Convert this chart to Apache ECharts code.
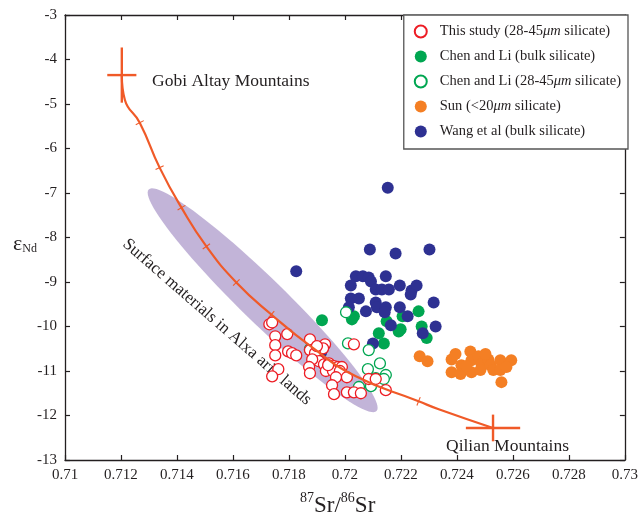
<!DOCTYPE html>
<html><head><meta charset="utf-8">
<script src="https://cdn.jsdelivr.net/npm/echarts@6/dist/echarts.min.js"></script>
<style>html,body{margin:0;padding:0;background:#fff}#c{width:641px;height:519px}</style>
</head><body><div id="c"></div>
<script>
// ---- data ----
const xTickLabels = ['0.71','0.712','0.714','0.716','0.718','0.72','0.722','0.724','0.726','0.728','0.73'];
const yTickLabels = ['-13','-12','-11','-10','-9','-8','-7','-6','-5','-4','-3'];

const thisStudy = [[0.71730,-9.95],[0.71740,-9.91],[0.71751,-10.22],[0.71794,-10.17],[0.71751,-10.42],[0.71751,-10.65],[0.71797,-10.56],[0.71811,-10.60],[0.71826,-10.65],[0.71762,-10.96],[0.71740,-11.12],[0.71875,-10.29],[0.71929,-10.40],[0.71922,-10.49],[0.71875,-10.53],[0.71893,-10.60],[0.71907,-10.78],[0.71883,-10.74],[0.71872,-10.91],[0.71875,-11.05],[0.71925,-10.85],[0.71943,-10.83],[0.71961,-10.89],[0.71975,-10.91],[0.71989,-10.91],[0.71932,-11.00],[0.71957,-11.00],[0.71982,-11.00],[0.72007,-11.14],[0.71968,-11.14],[0.71954,-11.32],[0.71961,-11.52],[0.72007,-11.48],[0.72032,-11.48],[0.72057,-11.50],[0.72032,-10.40],[0.72085,-11.18],[0.72110,-11.18],[0.72146,-11.43],[0.71900,-10.44],[0.71940,-10.87]];
const chenBulk = [[0.71918,-9.86],[0.72032,-9.77],[0.72121,-10.15],[0.72139,-10.38],[0.72149,-9.88],[0.72192,-10.11],[0.72206,-9.77],[0.72263,-9.66],[0.72274,-10.00],[0.72292,-10.26],[0.72199,-10.06],[0.72025,-9.84]];
const chenFine = [[0.72004,-9.68],[0.72011,-10.38],[0.72085,-10.53],[0.72125,-10.83],[0.72082,-10.96],[0.72146,-11.09],[0.72110,-11.16],[0.72093,-11.34],[0.72050,-11.36],[0.71875,-10.51],[0.72139,-11.18]];
const sunFine = [[0.72267,-10.67],[0.72295,-10.78],[0.72381,-10.74],[0.72395,-10.62],[0.72381,-11.03],[0.72413,-11.07],[0.72416,-10.87],[0.72448,-10.56],[0.72452,-10.76],[0.72452,-11.03],[0.72477,-10.67],[0.72488,-10.85],[0.72484,-10.98],[0.72512,-10.74],[0.72520,-10.87],[0.72530,-10.98],[0.72555,-10.76],[0.72555,-10.98],[0.72559,-11.25],[0.72594,-10.76],[0.72577,-10.91],[0.72434,-10.89],[0.72502,-10.62]];
const wangBulk = [[0.72153,-6.88],[0.71826,-8.76],[0.72089,-8.27],[0.72181,-8.36],[0.72302,-8.27],[0.72039,-8.87],[0.72064,-8.87],[0.72085,-8.90],[0.72146,-8.87],[0.72021,-9.08],[0.72093,-8.99],[0.72110,-9.17],[0.72132,-9.17],[0.72157,-9.17],[0.72196,-9.08],[0.72238,-9.19],[0.72256,-9.08],[0.72235,-9.28],[0.72021,-9.37],[0.72050,-9.37],[0.72014,-9.57],[0.72075,-9.66],[0.72110,-9.46],[0.72114,-9.57],[0.72146,-9.57],[0.72142,-9.68],[0.72196,-9.57],[0.72224,-9.77],[0.72164,-9.97],[0.72317,-9.46],[0.72278,-10.15],[0.72324,-10.00],[0.72100,-10.38],[0.71915,-10.58]];

// mixing curve
const curveX = [0.71203,0.71214,0.71267,0.71338,0.71416,0.71505,0.71612,0.71737,0.71883,0.72039,0.72263,0.72335,0.72529];
const curveY = [-4.37,-4.91,-5.42,-6.43,-7.33,-8.20,-9.01,-9.73,-10.47,-11.12,-11.68,-11.86,-12.28];
// mixing-ratio tick marks on the curve
const tickX = [0.71267,0.71338,0.71416,0.71505,0.71612,0.71737,0.72263];
const tickY = [-5.42,-6.43,-7.33,-8.20,-9.01,-9.73,-11.68];

// end members: x, y, x error, y error
const endNames = ['Gobi Altay Mountains','Qilian Mountains'];
const endX = [0.71203,0.72529];
const endY = [-4.35,-12.28];
const endXErr = [0.00052,0.00097];
const endYErr = [0.62,0.30];

// surface-material field (ellipse): centre, one end of the major axis, minor/major ratio
const ellipseCenter = [0.71706,-9.41];
const ellipseEnd = [0.71299,-6.92];
const ellipseRatio = 0.14;

// ---- chart ----
const serif = '"Liberation Serif","Times New Roman",serif';
const ink = '#231f20';
const curveColor = '#f05a28';
const chart = echarts.init(document.getElementById('c'), null, {renderer:'canvas'});

const axisCommon = {
  axisLine:{show:true, onZero:false, lineStyle:{color:ink, width:1.3}},
  axisTick:{show:true, inside:true, length:5, lineStyle:{color:ink, width:1.2}},
  splitLine:{show:false}
};

chart.setOption({
  animation:false,
  backgroundColor:'#fff',
  grid:{left:65, right:13, top:15, bottom:59},
  xAxis:[
    Object.assign({type:'value', min:0.71, max:0.73, interval:0.002, position:'bottom',
      axisLabel:{color:ink, fontFamily:serif, fontSize:15, margin:8,
        formatter:(v)=>xTickLabels[Math.round((v-0.71)/0.002)]}}, axisCommon),
    Object.assign({type:'value', min:0.71, max:0.73, interval:0.002, position:'top', axisLabel:{show:false}}, axisCommon)
  ],
  yAxis:[
    Object.assign({type:'value', min:-13, max:-3, interval:1, position:'left',
      axisLabel:{color:ink, fontFamily:serif, fontSize:15, margin:8,
        formatter:(v)=>yTickLabels[Math.round(v+13)]}}, axisCommon),
    Object.assign({type:'value', min:-13, max:-3, interval:1, position:'right', axisLabel:{show:false}}, axisCommon)
  ],
  legend:{
    orient:'vertical', right:13, top:15,
    padding:[9,7,10,10], itemGap:10, itemWidth:28, itemHeight:12,
    borderColor:'#555', borderWidth:1.3, backgroundColor:'#fff',
    textStyle:{fontFamily:serif, fontSize:14.5, color:ink,
      rich:{i:{fontFamily:serif, fontSize:14.5, fontStyle:'italic', color:ink}}},
    formatter:(n)=>n.replace('μm','{i|μm}'),
    data:['This study (28-45μm silicate)','Chen and Li (bulk silicate)','Chen and Li (28-45μm silicate)','Sun (<20μm silicate)','Wang et al (bulk silicate)']
  },
  graphic:[
    {type:'text', left:152, top:72, silent:true, style:{text:'Gobi Altay Mountains', font:'17.5px '+serif, fill:ink}},
    {type:'text', left:446, top:437, silent:true, style:{text:'Qilian Mountains', font:'17.5px '+serif, fill:ink}},
    {type:'text', x:217, y:322, rotation:-41*Math.PI/180, silent:true,
      style:{text:'Surface materials in Alxa arid lands', font:'17px '+serif, fill:ink, align:'center', verticalAlign:'middle'}},
    {type:'text', left:13, top:233, silent:true,
      style:{text:'{e|ε}{s|Nd}', rich:{e:{fontFamily:serif, fontSize:22, fill:ink, verticalAlign:'bottom', lineHeight:24},
        s:{fontFamily:serif, fontSize:12, fill:ink, verticalAlign:'bottom', lineHeight:18}}}},
    {type:'text', left:300, top:491, silent:true,
      style:{text:'{p|87}{t|Sr/}{p|86}{t|Sr}', rich:{t:{fontFamily:serif, fontSize:23, fill:ink, verticalAlign:'bottom', lineHeight:26},
        p:{fontFamily:serif, fontSize:14, fill:ink, verticalAlign:'top', lineHeight:26}}}}
  ],
  series:[
    { type:'custom', name:'field', silent:true, data:[ellipseCenter],
      renderItem:(params, api)=>{
        const c = api.coord(ellipseCenter), e = api.coord(ellipseEnd);
        const ax = e[0]-c[0], ay = e[1]-c[1];
        const a = Math.hypot(ax, ay), ux = ax/a, uy = ay/a, b = a*ellipseRatio;
        const pts = [];
        for (let k=0;k<96;k++){
          const t = k/96*Math.PI*2, ca = Math.cos(t)*a, sb = Math.sin(t)*b;
          pts.push([c[0]+ux*ca - uy*sb, c[1]+uy*ca + ux*sb]);
        }
        return {type:'polygon', shape:{points:pts}, style:{fill:'#c2b4d8'}};
      }},
    { type:'line', name:'mixing', silent:true, smooth:0.5, symbol:'none',
      data:curveX.map((x,i)=>[x,curveY[i]]), lineStyle:{color:curveColor, width:2.2}},
    { type:'custom', name:'ticks', silent:true, data:tickX.map((x,i)=>[x,tickY[i]]),
      renderItem:(params, api)=>{
        const p = api.coord([api.value(0), api.value(1)]);
        const cp = curveX.map((x,i)=>api.coord([x,curveY[i]]));
        let bi=0, bd=1e9;
        cp.forEach((q,i)=>{const d=Math.hypot(q[0]-p[0],q[1]-p[1]); if(d<bd){bd=d;bi=i;}});
        const pr = cp[Math.max(bi-1,0)], nx = cp[Math.min(bi+1,cp.length-1)];
        let dx = nx[0]-pr[0], dy = nx[1]-pr[1]; const L = Math.hypot(dx,dy); dx/=L; dy/=L;
        const h = 4.5;
        return {type:'line', shape:{x1:p[0]-dy*h, y1:p[1]+dx*h, x2:p[0]+dy*h, y2:p[1]-dx*h},
          style:{stroke:curveColor, lineWidth:1.1}};
      }},
    { type:'custom', name:'endmembers', silent:true,
      data:endX.map((x,i)=>[x,endY[i],endXErr[i],endYErr[i]]),
      renderItem:(params, api)=>{
        const x=api.value(0), y=api.value(1), ex=api.value(2), ey=api.value(3);
        const l=api.coord([x-ex,y]), r=api.coord([x+ex,y]), t=api.coord([x,y+ey]), b=api.coord([x,y-ey]);
        const st = {stroke:curveColor, lineWidth:2.4};
        return {type:'group', children:[
          {type:'line', shape:{x1:l[0],y1:l[1],x2:r[0],y2:r[1]}, style:st},
          {type:'line', shape:{x1:t[0],y1:t[1],x2:b[0],y2:b[1]}, style:st}
        ]};
      }},
    { type:'scatter', name:'Sun (<20μm silicate)', data:sunFine, symbol:'circle', symbolSize:12,
      itemStyle:{color:'#f47f24', opacity:1}},
    { type:'scatter', name:'Chen and Li (bulk silicate)', data:chenBulk, symbol:'circle', symbolSize:12,
      itemStyle:{color:'#00a651', opacity:1}},
    { type:'scatter', name:'Wang et al (bulk silicate)', data:wangBulk, symbol:'circle', symbolSize:12,
      itemStyle:{color:'#2e3192', opacity:1}},
    { type:'scatter', name:'Chen and Li (28-45μm silicate)', data:chenFine, symbol:'circle', symbolSize:11,
      itemStyle:{color:'#ffffff', borderColor:'#00a651', borderWidth:1.3, opacity:1}},
    { type:'scatter', name:'This study (28-45μm silicate)', data:thisStudy, symbol:'circle', symbolSize:11,
      itemStyle:{color:'#ffffff', borderColor:'#ed1c24', borderWidth:1.3, opacity:1}}
  ]
});
</script></body></html>
